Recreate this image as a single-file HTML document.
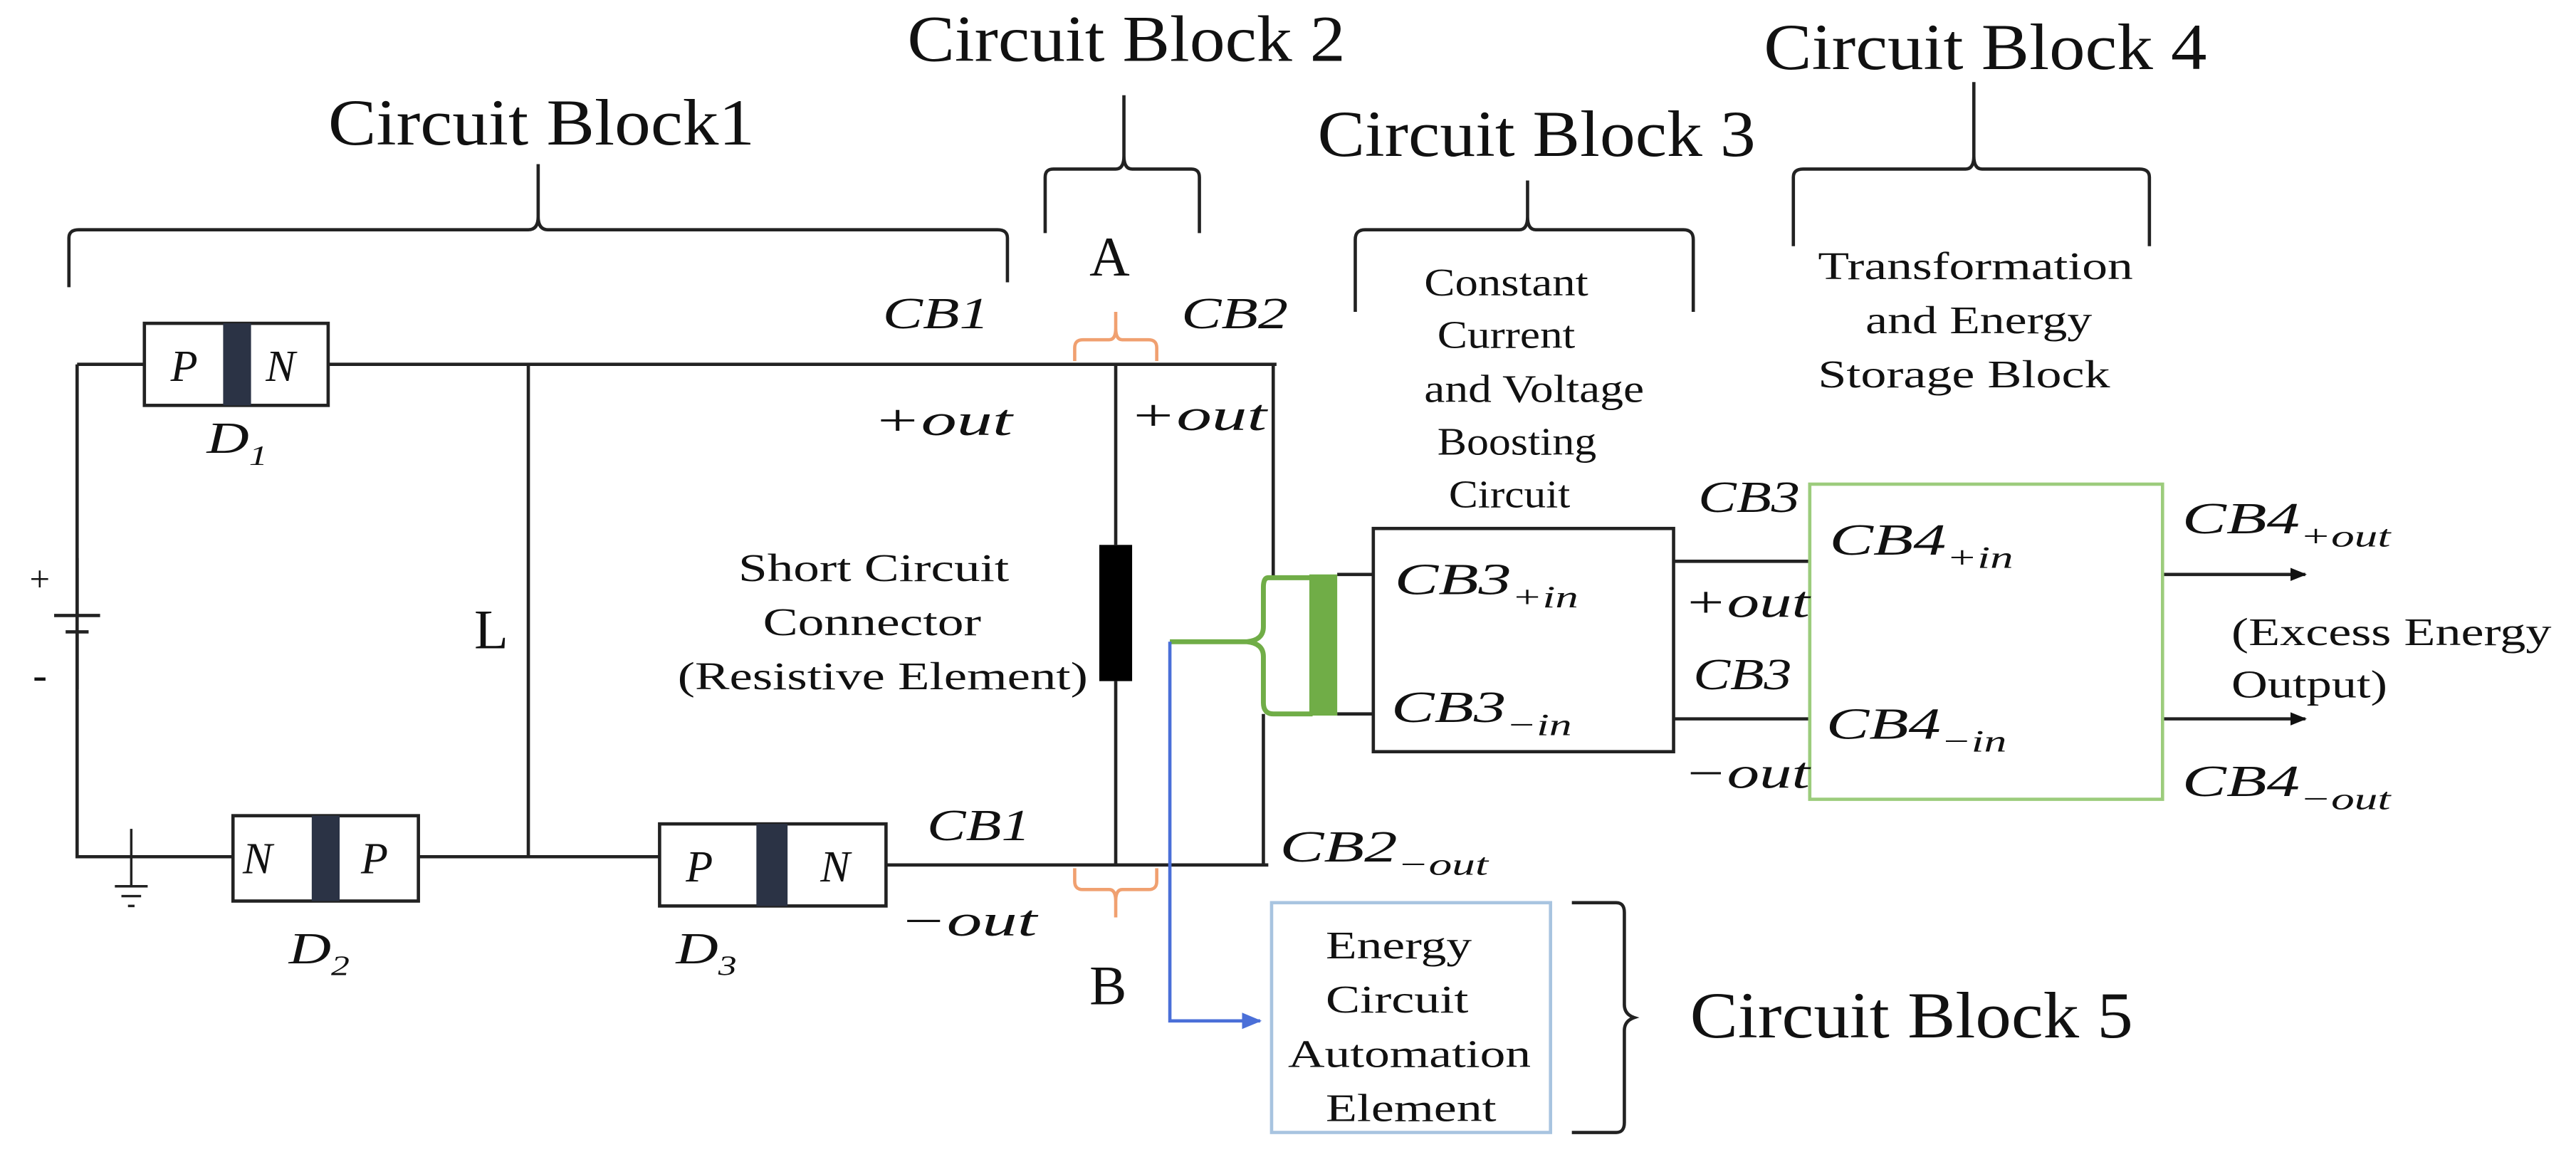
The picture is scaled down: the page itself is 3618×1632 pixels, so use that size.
<!DOCTYPE html>
<html><head><meta charset="utf-8"><style>
html,body{margin:0;padding:0;background:#fff;}
svg{display:block;}
text{font-family:"Liberation Serif",serif;fill:#111;}
.m{font-style:italic;}
</style></head><body>
<svg width="3618" height="1632" viewBox="0 0 1570 708" preserveAspectRatio="none" xmlns="http://www.w3.org/2000/svg">
<defs>
<marker id="ak" markerWidth="10" markerHeight="10" refX="9" refY="5" orient="auto" markerUnits="userSpaceOnUse"><path d="M0,1 L10,5 L0,9 Z" fill="#111"/></marker>
<marker id="ab" markerWidth="12" markerHeight="12" refX="11" refY="6" orient="auto" markerUnits="userSpaceOnUse"><path d="M0,1 L12,6 L0,11 Z" fill="#4a6fd8"/></marker>
</defs>
<g fill="none" stroke="#222" stroke-width="2">
<path d="M42,175 V145 Q42,140 48,140 H322 Q328,140 328,132 V100 M328,132 Q328,140 334,140 H608 Q614,140 614,145 V172"/>
<path d="M637,142 V108 Q637,103 642,103 H680 Q685,103 685,95 V58 M685,95 Q685,103 690,103 H726 Q731,103 731,108 V142"/>
<path d="M826,190 V146 Q826,140 832,140 H926 Q931,140 931,132 V110 M931,132 Q931,140 936,140 H1026 Q1032,140 1032,146 V190"/>
<path d="M1093,150 V108 Q1093,103 1099,103 H1198 Q1203,103 1203,95 V50 M1203,95 Q1203,103 1208,103 H1304 Q1310,103 1310,108 V150"/>
<path d="M958,550 H985 Q990,550 990,556 V612 Q990,618 996,620 Q990,622 990,628 V684 Q990,690 985,690 H958"/>
<path d="M47,222 H88 M200,222 H778 M47,222 V522 H142 M255,522 H402 M322,222 V522 M540,527 H773 M776,222 V352 M770,435 V527 M680,222 V332 M680,415 V527"/>
<path d="M815,350 H837 M815,435 H837 M1020,342 H1103 M1020,438 H1103"/>
<path d="M1318,350 H1405" marker-end="url(#ak)"/>
<path d="M1318,438 H1405" marker-end="url(#ak)"/>
<path d="M47,340 V375 M33,375 H61 M40,385 H54 M47,385 V420" stroke-width="2"/>
<path d="M80,505 V540 M70,540 H90 M74,546 H86 M78,552 H82" stroke-width="1.5"/>
<rect x="88" y="197" width="112" height="50" fill="#fff"/>
<rect x="142" y="497" width="113" height="52" fill="#fff"/>
<rect x="402" y="502" width="138" height="50" fill="#fff"/>
<rect x="837" y="322" width="183" height="136"/>
</g>
<rect x="136" y="197" width="17" height="50" fill="#2b3345"/>
<rect x="190" y="497" width="17" height="52" fill="#2b3345"/>
<rect x="461" y="502" width="19" height="50" fill="#2b3345"/>
<rect x="670" y="332" width="20" height="83" fill="#000"/>
<rect x="1103" y="295" width="215" height="192" fill="none" stroke="#9ccc7c" stroke-width="2"/>
<rect x="775" y="550" width="170" height="140" fill="none" stroke="#a8c4e0" stroke-width="2"/>
<path d="M800,352 H773 Q770,352 770,358 V382 Q770,390 760,391 H713 M760,391 Q770,392 770,400 V428 Q770,435 776,435 H800" fill="none" stroke="#70ad47" stroke-width="3"/>
<rect x="798" y="350" width="17" height="86" fill="#70ad47"/>
<path d="M713,391 V622 H768" fill="none" stroke="#4a6fd8" stroke-width="2" marker-end="url(#ab)"/>
<path d="M655,220 V212 Q655,207 660,207 H676 Q680,207 680,200 V190 M680,200 Q680,207 684,207 H700 Q705,207 705,212 V220" fill="none" stroke="#f0a070" stroke-width="2"/>
<path d="M655,529 V537 Q655,542 660,542 H676 Q680,542 680,549 V559 M680,549 Q680,542 684,542 H700 Q705,542 705,537 V529" fill="none" stroke="#f0a070" stroke-width="2"/>
<g font-size="40" lengthAdjust="spacingAndGlyphs">
<text x="200" y="88" textLength="260" lengthAdjust="spacingAndGlyphs">Circuit Block1</text>
<text x="553" y="37" textLength="267" lengthAdjust="spacingAndGlyphs">Circuit Block 2</text>
<text x="803" y="95" textLength="267" lengthAdjust="spacingAndGlyphs">Circuit Block 3</text>
<text x="1075" y="42" textLength="270" lengthAdjust="spacingAndGlyphs">Circuit Block 4</text>
<text x="1030" y="632" textLength="270" lengthAdjust="spacingAndGlyphs">Circuit Block 5</text>
</g>
<g font-size="34">
<text x="664" y="168">A</text>
<text x="664" y="612">B</text>
<text x="289" y="395">L</text>
</g>
<text x="18" y="360" font-size="22">+</text>
<text x="20" y="420" font-size="26">-</text>
<g font-size="27" class="m">
<text x="104" y="232">P</text><text x="162" y="232">N</text>
<text x="148" y="532">N</text><text x="220" y="532">P</text>
<text x="418" y="537">P</text><text x="500" y="537">N</text>
<text x="126" y="276" textLength="37" lengthAdjust="spacingAndGlyphs">D<tspan font-size="17" dy="7">1</tspan></text>
<text x="176" y="587" textLength="37" lengthAdjust="spacingAndGlyphs">D<tspan font-size="17" dy="7">2</tspan></text>
<text x="412" y="587" textLength="37" lengthAdjust="spacingAndGlyphs">D<tspan font-size="17" dy="7">3</tspan></text>
<text x="538" y="200" textLength="65" lengthAdjust="spacingAndGlyphs">CB1</text>
<text x="720" y="200" textLength="65" lengthAdjust="spacingAndGlyphs">CB2</text>
<text x="532" y="265" textLength="85" lengthAdjust="spacingAndGlyphs">+out</text>
<text x="688" y="262" textLength="84" lengthAdjust="spacingAndGlyphs">+out</text>
<text x="565" y="512" textLength="63" lengthAdjust="spacingAndGlyphs">CB1</text>
<text x="548" y="570" textLength="84" lengthAdjust="spacingAndGlyphs">−out</text>
<text x="780" y="525" textLength="127" lengthAdjust="spacingAndGlyphs">CB2<tspan font-size="19" dy="8">−out</tspan></text>
<text x="850" y="362" textLength="112" lengthAdjust="spacingAndGlyphs">CB3<tspan font-size="19" dy="8">+in</tspan></text>
<text x="848" y="440" textLength="110" lengthAdjust="spacingAndGlyphs">CB3<tspan font-size="19" dy="8">−in</tspan></text>
<text x="1035" y="312" textLength="62" lengthAdjust="spacingAndGlyphs">CB3</text>
<text x="1026" y="376" textLength="77" lengthAdjust="spacingAndGlyphs">+out</text>
<text x="1032" y="420" textLength="60" lengthAdjust="spacingAndGlyphs">CB3</text>
<text x="1026" y="480" textLength="77" lengthAdjust="spacingAndGlyphs">−out</text>
<text x="1115" y="338" textLength="112" lengthAdjust="spacingAndGlyphs">CB4<tspan font-size="19" dy="8">+in</tspan></text>
<text x="1113" y="450" textLength="110" lengthAdjust="spacingAndGlyphs">CB4<tspan font-size="19" dy="8">−in</tspan></text>
<text x="1330" y="325" textLength="127" lengthAdjust="spacingAndGlyphs">CB4<tspan font-size="19" dy="8">+out</tspan></text>
<text x="1330" y="485" textLength="127" lengthAdjust="spacingAndGlyphs">CB4<tspan font-size="19" dy="8">−out</tspan></text>
</g>
<g font-size="24">
<text x="868" y="180" textLength="100" lengthAdjust="spacingAndGlyphs">Constant</text>
<text x="876" y="212" textLength="84" lengthAdjust="spacingAndGlyphs">Current</text>
<text x="868" y="245" textLength="134" lengthAdjust="spacingAndGlyphs">and Voltage</text>
<text x="876" y="277" textLength="97" lengthAdjust="spacingAndGlyphs">Boosting</text>
<text x="883" y="309" textLength="74" lengthAdjust="spacingAndGlyphs">Circuit</text>
<text x="1108" y="170" textLength="192" lengthAdjust="spacingAndGlyphs">Transformation</text>
<text x="1137" y="203" textLength="138" lengthAdjust="spacingAndGlyphs">and Energy</text>
<text x="1108" y="236" textLength="178" lengthAdjust="spacingAndGlyphs">Storage Block</text>
<text x="450" y="354" textLength="165" lengthAdjust="spacingAndGlyphs">Short Circuit</text>
<text x="465" y="387" textLength="133" lengthAdjust="spacingAndGlyphs">Connector</text>
<text x="413" y="420" textLength="250" lengthAdjust="spacingAndGlyphs">(Resistive Element)</text>
<text x="808" y="584" textLength="89" lengthAdjust="spacingAndGlyphs">Energy</text>
<text x="808" y="617" textLength="87" lengthAdjust="spacingAndGlyphs">Circuit</text>
<text x="785" y="650" textLength="148" lengthAdjust="spacingAndGlyphs">Automation</text>
<text x="808" y="683" textLength="104" lengthAdjust="spacingAndGlyphs">Element</text>
<text x="1360" y="393" textLength="195" lengthAdjust="spacingAndGlyphs">(Excess Energy</text>
<text x="1360" y="425" textLength="95" lengthAdjust="spacingAndGlyphs">Output)</text>
</g>
</svg>
</body></html>
